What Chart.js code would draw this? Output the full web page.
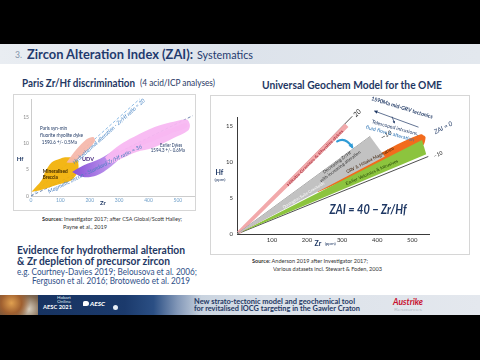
<!DOCTYPE html>
<html><head><meta charset="utf-8">
<script src="https://cdn.jsdelivr.net/npm/chart.js@4.4.1/dist/chart.umd.min.js"></script>
<style>
html,body{margin:0;padding:0;background:#000;}
#page{position:relative;width:480px;height:360px;overflow:hidden;background:#000;font-family:Lato,"Open Sans",sans-serif;}
.abs{position:absolute;}
.t{position:absolute;white-space:nowrap;transform-origin:0 50%;}
</style></head><body><div id="page">
<div class="abs" style="left:0;top:44px;width:480px;height:251px;background:#fff"></div>
<div class="abs" style="left:0;top:44px;width:480px;height:20px;background:linear-gradient(90deg,#e9edf2,#dde3eb 50%,#e3e8ee)"></div>
<div class="abs" style="left:13px;top:94px;width:181px;height:115px;border:1px solid #d6d6d6"></div>
<canvas id="cl" class="abs" style="left:13px;top:94px" width="182" height="116"></canvas>
<div class="abs" style="left:210px;top:95px;width:258px;height:158px;border:1px solid #d6d6d6"></div>
<canvas id="cr" class="abs" style="left:210px;top:95px" width="259" height="159"></canvas>
<div class="abs" style="left:0;top:295px;width:480px;height:20px;background:linear-gradient(90deg,#15305c 0%,#1b3a6c 26%,#2b4f84 32%,#8398b8 37%,#c9d3df 42%,#dbe1e9 55%,#e4e8ee 100%)"></div>
<div class="abs" style="left:0;top:295px;width:38px;height:20px;background:radial-gradient(circle at 30% 40%,#e0a050 0,#a06030 35%,rgba(0,0,0,0) 65%),radial-gradient(circle at 75% 70%,#d9d0c0 0,#806850 40%,rgba(0,0,0,0) 75%),linear-gradient(90deg,#6b5440,#3a3a4a)"></div>
<div class="abs" style="left:83px;top:301px;width:6px;height:5px;border-radius:2px 3px 3px 1px;background:#fff"></div>
<div class="abs" style="left:113px;top:305px;width:5px;height:5px;border-radius:50%;background:#e8eef6"></div>
</div>
<script>
// ================= DATA: left chart "Paris Zr/Hf discrimination" =================
const parisZrTicks = [0, 100, 200, 300, 400, 500];
const parisHfTicks = [0, 5, 10, 15];

const brecciaZr = [2, 36, 48, 70, 99, 116, 155, 161, 138, 87, 31, 2];
const brecciaHf = [0.8, 3, 4.6, 6.4, 7.1, 7.4, 7.1, 4.9, 3, 2.1, 1.1, 0.8];

const synMinDykeZr = [121, 155, 189, 212, 218, 195, 167, 144, 121];
const synMinDykeHf = [6.4, 8.9, 10.8, 11.25, 10.5, 8.9, 7.4, 6.4, 6.4];

const udvZr = [140, 178, 235, 280, 297, 303, 269, 223, 178, 140];
const udvHf = [4.6, 5.8, 7.1, 8.6, 8.9, 7.4, 5.5, 3.9, 3.6, 4.6];

const earlierDykesZr = [252, 291, 337, 405, 473, 530, 541, 535, 484, 416, 359, 303, 269, 252];
const earlierDykesHf = [7.4, 9.3, 10.9, 12.8, 14.0, 14.6, 13.6, 12.5, 11.0, 9.2, 8.4, 7.0, 6.2, 7.4];

const earlierCoreZr = [300, 360, 420, 480, 528, 532, 480, 420, 360, 310, 300];
const earlierCoreHf = [8.4, 10.0, 11.6, 12.9, 13.9, 13.1, 12.0, 10.6, 9.2, 7.8, 8.4];

const ratio20Zr = [0, 370];
const ratio20Hf = [0, 18.5];
const ratio36Zr = [0, 550];
const ratio36Hf = [0, 15.3];

// ================= DATA: right chart "Universal Geochem Model for the OME" =================
const omeZrTicks = [100, 200, 300, 400, 500];
const omeHfTicks = [0, 5, 10, 15];

const zai20Zr = [0, 329];
const zai20Hf = [0, 16.4];
const zaiM10Zr = [0, 546];
const zaiM10Hf = [0, 10.8];

const pinkZr = [0, 308, 318, 8, 0];
const pinkHf = [0.3, 15.4, 14.9, 0, 0.3];
const grayZr = [0, 380, 422, 0];
const grayHf = [0, 13.6, 10.8, 0];
const grayEdgeZr = [0, 380];
const grayEdgeHf = [0, 13.6];
const redZr = [15, 200, 325, 336, 200, 15];
const redHf = [0.45, 6.06, 9.85, 9.3, 5.3, 0.4];
const greenZr = [0, 528, 540, 0];
const greenHf = [0, 13.1, 11.1, 0];
const orangeZr = [230, 300, 450, 525, 538, 532, 450, 300, 230];
const orangeHf = [6.1, 8.3, 12.3, 13.9, 13.5, 12.4, 10.8, 7.3, 5.8];

// ================= helpers =================
const FONT = 'Lato, "Open Sans", sans-serif';
Chart.defaults.font.family = FONT;
function pts(xs, ys) { return xs.map((v, i) => ({x: v, y: ys[i]})); }
function area(xs, ys, bg, extra) {
  return Object.assign({data: pts(xs, ys), backgroundColor: bg, borderColor: 'rgba(0,0,0,0)', borderWidth: 0,
    fill: 'shape', pointRadius: 0, tension: 0}, extra || {});
}
function seg(xs, ys, color, w, dash) {
  return {data: pts(xs, ys), borderColor: color, borderWidth: w, borderDash: dash || [], fill: false,
    pointRadius: 0, clip: false};
}
function makeAnnot(items) {
  return {id: 'annot', afterDatasetsDraw(chart) {
    const ctx = chart.ctx, X = chart.scales.x, Y = chart.scales.y;
    const P = (a, b) => [X.getPixelForValue(a), Y.getPixelForValue(b)];
    for (const it of items) {
      ctx.save();
      if (it.kind === 'arrow') {
        const a = P(it.from[0], it.from[1]), b = P(it.to[0], it.to[1]);
        ctx.strokeStyle = it.color; ctx.fillStyle = it.color; ctx.lineWidth = it.width; ctx.lineCap = 'round';
        ctx.beginPath(); ctx.moveTo(a[0], a[1]);
        let c = null;
        if (it.via) { c = P(it.via[0], it.via[1]); ctx.quadraticCurveTo(c[0], c[1], b[0], b[1]); }
        else ctx.lineTo(b[0], b[1]);
        ctx.stroke();
        if (it.head) {
          const f = c || a; const ang = Math.atan2(b[1] - f[1], b[0] - f[0]); const h = it.head;
          const dx = Math.cos(ang), dy = Math.sin(ang);
          ctx.beginPath();
          ctx.moveTo(b[0] + dx * h * 0.4, b[1] + dy * h * 0.4);
          ctx.lineTo(b[0] - dx * h * 0.8 - dy * h * 0.6, b[1] - dy * h * 0.8 + dx * h * 0.6);
          ctx.lineTo(b[0] - dx * h * 0.8 + dy * h * 0.6, b[1] - dy * h * 0.8 - dx * h * 0.6);
          ctx.closePath(); ctx.fill();
        }
      } else {
        const p = P(it.zr, it.hf);
        ctx.translate(p[0], p[1]); ctx.rotate((it.rot || 0) * Math.PI / 180);
        ctx.font = (it.it ? 'italic ' : '') + (it.b ? 'bold ' : '') + it.size + 'px ' + FONT;
        ctx.fillStyle = it.color || '#000'; ctx.textBaseline = 'middle'; ctx.textAlign = it.align || 'center';
        const lines = it.text.split('\n'); const lh = it.size * 1.15;
        lines.forEach((ln, i) => {
          ctx.save(); ctx.translate(0, (i - (lines.length - 1) / 2) * lh);
          if (it.w) { const m = ctx.measureText(ln).width; if (m > 0) ctx.scale(it.w / m, 1); }
          ctx.fillText(ln, 0, 0); ctx.restore();
        });
      }
      ctx.restore();
    }
  }};
}
function scaleOpts(min, max, tickList, fitKey, fitVal, tickColor, tickSize, pad, borderColor) {
  return {type: 'linear', min: min, max: max,
    grid: {display: false, drawTicks: false}, border: {display: true, color: borderColor, width: 1},
    afterFit(s) { s[fitKey] = fitVal; },
    afterBuildTicks(s) { s.ticks = tickList.map(v => ({value: v})); },
    ticks: {font: {size: tickSize}, color: tickColor, padding: pad, autoSkip: false, maxRotation: 0, minRotation: 0}};
}
function udvFill(c) {
  const ch = c.chart, X = ch.scales && ch.scales.x;
  if (!X) return '#a678e4';
  const a = X.getPixelForValue(150), b = X.getPixelForValue(300);
  if (!isFinite(a) || !isFinite(b) || a === b) return '#a678e4';
  const g = ch.ctx.createLinearGradient(a, 0, b, 0);
  g.addColorStop(0, '#8a55d8'); g.addColorStop(1, '#caa4f2'); return g;
}

// ================= left chart =================
const leftNotes = [
  {text: 'Paris syn-min', zr: 31, hf: 12.9, size: 5, align: 'left', color: '#1f3864', w: 27},
  {text: 'fluorite rhyolite dyke', zr: 31, hf: 11.5, size: 5, align: 'left', color: '#1f3864', w: 43},
  {text: '1590.6 +/- 0.5Ma', zr: 37, hf: 10.3, size: 5, align: 'left', color: '#1f3864', w: 35},
  {text: 'Earlier Dykes', zr: 477, hf: 9.7, size: 5, color: '#1f3864', w: 22},
  {text: '1594.3 +/- 0.6Ma', zr: 466, hf: 8.7, size: 5, color: '#1f3864', w: 34},
  {text: 'UDV', zr: 194, hf: 7.1, size: 5.5, b: 1, color: '#3d1f78'},
  {text: 'Mineralised', zr: 40, hf: 4.7, size: 5, b: 1, align: 'left', color: '#3a2500', w: 25},
  {text: 'Breccia', zr: 40, hf: 3.55, size: 5, b: 1, align: 'left', color: '#3a2500', w: 15},
  {text: 'Hydrothermal alteration - Zr/Hf ratio = 20', zr: 265, hf: 12.3, rot: -42, size: 5.5, it: 1, color: '#4a86c5', w: 95},
  {text: 'Magmatic zircon - Standard Zr/Hf ratio = 36', zr: 218, hf: 5.15, rot: -26, size: 5.5, it: 1, color: '#4a7fc0', w: 104},
  {text: 'Hf', zr: -37, hf: 7.1, size: 6, b: 1, color: '#1f3864'},
  {text: 'Zr', zr: 245, hf: -1.3, size: 6, b: 1, color: '#1f3864'}
];
new Chart(document.getElementById('cl'), {
  type: 'line',
  data: {datasets: [
    area(earlierDykesZr, earlierDykesHf, 'rgba(248,184,242,0.95)', {tension: 0.3}),
    area(earlierCoreZr, earlierCoreHf, 'rgba(236,118,226,0.55)', {tension: 0.3}),
    area(synMinDykeZr, synMinDykeHf, 'rgba(246,184,172,0.95)', {tension: 0.3}),
    area(udvZr, udvHf, udvFill, {tension: 0.3}),
    area(brecciaZr, brecciaHf, 'rgba(242,178,10,0.95)', {tension: 0.3}),
    seg(ratio36Zr, ratio36Hf, '#6f86ad', 1, [3, 2]),
    seg(ratio20Zr, ratio20Hf, '#8cbbe6', 1, [3, 2])
  ]},
  options: {responsive: false, animation: false, devicePixelRatio: 1, events: [],
    layout: {padding: {top: 3, right: 1, left: 0, bottom: 0}},
    plugins: {legend: {display: false}, tooltip: {enabled: false}},
    scales: {
      x: scaleOpts(0, 555, parisZrTicks, 'height', 14, '#6f9fc9', 5, 1, '#cccccc'),
      y: scaleOpts(0, 18.5, parisHfTicks, 'width', 18, '#8a8a8a', 5, 2, '#cccccc')
    }},
  plugins: [makeAnnot(leftNotes)]
});

// ================= right chart =================
const rightNotes = [
  {text: '20', zr: 343, hf: 16.85, rot: -45, size: 7, it: 1, color: '#222'},
  {text: '—10', zr: 426, hf: 13.8, rot: -30, size: 6, it: 1, color: '#222'},
  {text: 'ZAI = 0', zr: 589, hf: 14.8, rot: -28, size: 6.5, it: 1, color: '#1f3864'},
  {text: '−10', zr: 574, hf: 11.07, rot: -25, size: 5.5, it: 1, color: '#222'},
  {text: 'Hiltaba Granites & Rhyolite dykes', zr: 223, hf: 10.6, rot: -45, size: 4, color: '#a02030', w: 78},
  {text: 'Decreasing Zr/Hf\nwith increasing alteration', zr: 290, hf: 9.7, rot: -37, size: 4.5, color: '#333'},
  {text: 'Donington Suite Granitoids', zr: 190, hf: 5.4, rot: -31, size: 4, color: '#fff'},
  {text: 'GRV & Hiltaba Magmatism', zr: 380, hf: 10.3, rot: -27, size: 4.5, color: '#3a1a00'},
  {text: 'Earlier Volcanics & Intrusives', zr: 385, hf: 8.6, rot: -24, size: 4.5, color: '#1a3a00'},
  {text: '1590Ma mid-GRV tectonics', zr: 471, hf: 17.6, rot: 17, size: 5.5, b: 1, color: '#1f3864', w: 64},
  {text: 'Telescoped intrusions,', zr: 451, hf: 14.8, rot: 15, size: 5, color: '#1f3864', w: 48},
  {text: 'fluid flow & alteration', zr: 437, hf: 14.0, rot: 15, size: 5, color: '#2e75b6', w: 50},
  {text: 'ZAI = 40 − Zr/Hf', zr: 374, hf: 3.35, size: 12.5, b: 1, it: 1, color: '#1f3864', w: 77},
  {text: 'Hf', zr: -50, hf: 8.5, size: 7, b: 1, color: '#1f3864'},
  {text: '(ppm)', zr: -48.6, hf: 7.6, size: 4.5, color: '#1f3864'},
  {text: 'Zr', zr: 231, hf: -1.32, size: 7, b: 1, color: '#1f3864'},
  {text: '(ppm)', zr: 266, hf: -1.39, size: 4.5, color: '#1f3864'},
  {kind: 'arrow', from: [517, 14.9], to: [394, 17.1], color: '#1f3864', width: 0.7, head: 3},
  {kind: 'arrow', from: [443, 16.3], to: [449, 15.5], color: '#1f3864', width: 0.7, head: 2},
  {kind: 'arrow', from: [286, 12.9], via: [309, 13.6], to: [329, 12.1], color: '#2e9bd6', width: 2.2, head: 4}
];
new Chart(document.getElementById('cr'), {
  type: 'line',
  data: {datasets: [
    area(grayZr, grayHf, '#c2c2c2'),
    seg(grayEdgeZr, grayEdgeHf, '#a0a0a0', 1),
    area(pinkZr, pinkHf, '#f2a9ab'),
    area(greenZr, greenHf, '#8cc43e'),
    area(redZr, redHf, '#c0161c'),
    area(orangeZr, orangeHf, '#f26b1d', {tension: 0.2}),
    seg(zai20Zr, zai20Hf, '#222', 0.8),
    seg(zaiM10Zr, zaiM10Hf, '#222', 0.8)
  ]},
  options: {responsive: false, animation: false, devicePixelRatio: 1, events: [],
    layout: {padding: {top: 22, right: 40, left: 0, bottom: 0}},
    plugins: {legend: {display: false}, tooltip: {enabled: false}},
    scales: {
      x: scaleOpts(0, 548, omeZrTicks, 'height', 20, '#333', 6, 2, '#3a3a3a'),
      y: scaleOpts(0, 16.3, omeHfTicks, 'width', 27, '#333', 6, 4, '#3a3a3a')
    }},
  plugins: [makeAnnot(rightNotes)]
});

// ================= slide text =================
const texts = [
  ['3.', 15, 55, 7, 10, 'color:#8393aa'],
  ['Zircon Alteration Index (ZAI):', 27, 54.5, 166, 13.5, 'font-weight:700;color:#1f3a6e'],
  ['Systematics', 197, 55.5, 56, 10.5, 'color:#1f3a6e'],
  ['Paris Zr/Hf discrimination', 22, 83, 113, 11, 'font-weight:700;color:#1f3864'],
  ['(4 acid/ICP analyses)', 140, 83.5, 75, 8.5, 'color:#1f3864'],
  ['Universal Geochem Model for the OME', 262, 85, 180, 11, 'font-weight:700;color:#1f3864'],
  ['<b>Sources:</b> Investigator 2017; after CSA Global/Scott Halley;', 42, 219, 140, 6, 'color:#333'],
  ['Payne et al., 2019', 63, 227, 44, 6, 'color:#333'],
  ['Evidence for hydrothermal alteration', 17, 251, 168, 11.5, 'font-weight:700;color:#1f3864'],
  ['&amp; Zr depletion of precursor zircon', 17, 261.5, 153, 11.5, 'font-weight:700;color:#1f3864'],
  ['e.g. Courtney-Davies 2019; Belousova et al. 2006;', 17, 272, 180, 9.5, 'color:#2f5088'],
  ['Ferguson et al. 2016; Brotowedo et al. 2019', 32, 281, 158, 9.5, 'color:#2f5088'],
  ['<b>Source:</b> Anderson 2019 after Investigator 2017;', 252, 261, 116, 6, 'color:#333'],
  ['Various datasets incl. Stewart &amp; Foden, 2003', 273, 269, 109, 6, 'color:#333'],
  ['New strato-tectonic model and geochemical tool', 194, 302.5, 161, 8, 'font-weight:700;color:#1f3864'],
  ['for revitalised IOCG targeting in the Gawler Craton', 194, 309.5, 166, 8, 'font-weight:700;color:#1f3864'],
  ['Austrike', 393, 302.5, 30, 8.5, 'font-weight:700;font-style:italic;color:#c8102e'],
  ['Resources', 394, 310, 28, 4.5, 'color:#b8bec8'],
  ['AESC 2021', 43, 307, 29, 6, 'font-weight:700;color:#fff'],
  ['Hobart', 57, 298.5, 14, 3.5, 'color:#dfe6f0'],
  ['Online', 57, 302.5, 14, 3.5, 'color:#dfe6f0'],
  ['AESC', 90, 303.5, 15, 6, 'font-weight:900;font-style:italic;color:#fff']
];
const page = document.getElementById('page');
texts.forEach(t => {
  const d = document.createElement('div');
  d.className = 't'; d.innerHTML = t[0]; d.dataset.w = t[3];
  d.style.left = t[1] + 'px'; d.style.top = (t[2] - t[4] * 0.66) + 'px';
  d.style.fontSize = t[4] + 'px'; d.style.lineHeight = (t[4] * 1.2) + 'px';
  d.style.cssText += ';' + t[5];
  page.appendChild(d);
});
function fit() {
  document.querySelectorAll('.t').forEach(el => {
    el.style.transform = 'none';
    const w = el.getBoundingClientRect().width, tw = +el.dataset.w;
    if (w > 0 && tw > 0) el.style.transform = 'scaleX(' + (tw / w) + ')';
  });
}
fit();
if (document.fonts && document.fonts.ready) document.fonts.ready.then(fit);
</script>
</body></html>
